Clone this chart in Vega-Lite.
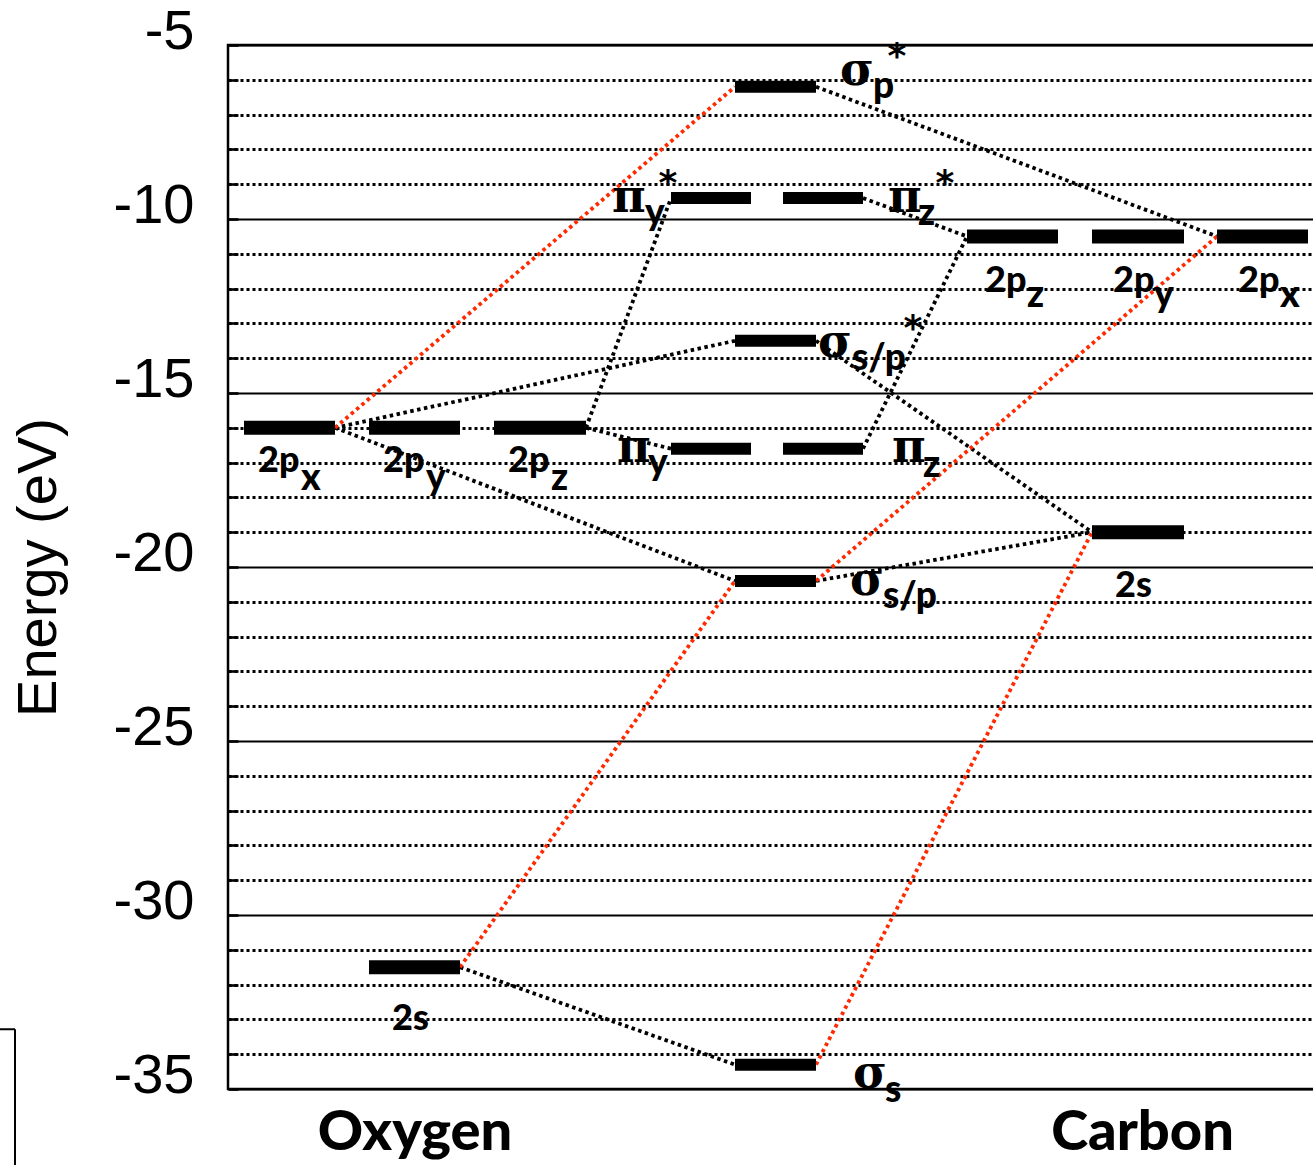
{
  "$schema": "https://vega.github.io/schema/vega-lite/v6.json",
  "width": 1100,
  "height": 1044,
  "autosize": {"type": "none"},
  "padding": {"left": 228, "top": 45, "right": 0, "bottom": 76},
  "background": "white",
  "config": {"view": {"stroke": "black", "strokeWidth": 2.5}},
  "datasets": {
    "levels": [
      {"id": "O 2s", "kind": "atomic", "x": 14.1, "x2": 23.2, "e": -31.5},
      {"id": "O 2px", "kind": "atomic", "x": 1.6, "x2": 10.7, "e": -16.0},
      {"id": "O 2py", "kind": "atomic", "x": 14.1, "x2": 23.2, "e": -16.0},
      {"id": "O 2pz", "kind": "atomic", "x": 26.6, "x2": 35.8, "e": -16.0},
      {"id": "C 2s", "kind": "atomic", "x": 86.4, "x2": 95.6, "e": -19.0},
      {"id": "C 2pz", "kind": "atomic", "x": 73.9, "x2": 83.0, "e": -10.5},
      {"id": "C 2py", "kind": "atomic", "x": 86.4, "x2": 95.6, "e": -10.5},
      {"id": "C 2px", "kind": "atomic", "x": 98.9, "x2": 108.0, "e": -10.5},
      {"id": "sigma s", "kind": "mo", "x": 50.7, "x2": 58.8, "e": -34.3},
      {"id": "sigma s/p", "kind": "mo", "x": 50.7, "x2": 58.8, "e": -20.4},
      {"id": "pi y", "kind": "mo", "x": 44.3, "x2": 52.3, "e": -16.6},
      {"id": "pi z", "kind": "mo", "x": 55.5, "x2": 63.5, "e": -16.6},
      {"id": "sigma s/p*", "kind": "mo", "x": 50.7, "x2": 58.8, "e": -13.5},
      {"id": "pi y*", "kind": "mo", "x": 44.3, "x2": 52.3, "e": -9.4},
      {"id": "pi z*", "kind": "mo", "x": 55.5, "x2": 63.5, "e": -9.4},
      {"id": "sigma p*", "kind": "mo", "x": 50.7, "x2": 58.8, "e": -6.2}
    ],
    "links": [
      {"c": "black", "x": 23.2, "e": -31.5, "x2": 50.7, "e2": -34.3},
      {"c": "black", "x": 10.7, "e": -16.0, "x2": 50.7, "e2": -13.5},
      {"c": "black", "x": 10.7, "e": -16.0, "x2": 50.7, "e2": -20.4},
      {"c": "black", "x": 58.8, "e": -20.4, "x2": 86.4, "e2": -19.0},
      {"c": "black", "x": 58.8, "e": -13.5, "x2": 86.4, "e2": -19.0},
      {"c": "black", "x": 35.8, "e": -16.0, "x2": 44.3, "e2": -9.4},
      {"c": "black", "x": 35.8, "e": -16.0, "x2": 44.3, "e2": -16.6},
      {"c": "black", "x": 63.5, "e": -16.6, "x2": 73.9, "e2": -10.5},
      {"c": "black", "x": 63.5, "e": -9.4, "x2": 73.9, "e2": -10.5},
      {"c": "black", "x": 58.8, "e": -6.2, "x2": 98.9, "e2": -10.5},
      {"c": "red", "x": 10.7, "e": -16.0, "x2": 50.7, "e2": -6.2},
      {"c": "red", "x": 23.2, "e": -31.5, "x2": 50.7, "e2": -20.4},
      {"c": "red", "x": 58.8, "e": -20.4, "x2": 98.9, "e2": -10.5},
      {"c": "red", "x": 58.8, "e": -34.3, "x2": 86.4, "e2": -19.0}
    ],
    "labels": [
      {"part": "main", "t": "2p", "x": 3.0, "e": -17.27},
      {"part": "main", "t": "2p", "x": 15.5, "e": -17.27},
      {"part": "main", "t": "2p", "x": 28.0, "e": -17.27},
      {"part": "main", "t": "2p", "x": 75.7, "e": -12.1},
      {"part": "main", "t": "2p", "x": 88.5, "e": -12.1},
      {"part": "main", "t": "2p", "x": 101.0, "e": -12.1},
      {"part": "main", "t": "2s", "x": 88.7, "e": -20.86},
      {"part": "main", "t": "2s", "x": 16.4, "e": -33.3},
      {"part": "sub", "t": "x", "x": 7.3, "e": -17.79},
      {"part": "sub", "t": "y", "x": 19.8, "e": -17.79},
      {"part": "sub", "t": "z", "x": 32.3, "e": -17.79},
      {"part": "sub", "t": "z", "x": 79.9, "e": -12.53},
      {"part": "sub", "t": "y", "x": 92.6, "e": -12.53},
      {"part": "sub", "t": "x", "x": 105.2, "e": -12.53},
      {"part": "greek", "t": "σ", "x": 61.2, "e": -6.15},
      {"part": "greek", "t": "π", "x": 38.4, "e": -9.8},
      {"part": "greek", "t": "π", "x": 66.0, "e": -9.8},
      {"part": "greek", "t": "σ", "x": 59.0, "e": -13.97},
      {"part": "greek", "t": "π", "x": 38.9, "e": -16.98},
      {"part": "greek", "t": "π", "x": 66.4, "e": -16.98},
      {"part": "greek", "t": "σ", "x": 62.2, "e": -20.8},
      {"part": "greek", "t": "σ", "x": 62.5, "e": -34.97},
      {"part": "sub", "t": "p", "x": 64.5, "e": -6.52},
      {"part": "sub", "t": "y", "x": 41.7, "e": -10.17},
      {"part": "sub", "t": "z", "x": 69.0, "e": -10.17},
      {"part": "sub", "t": "s/p", "x": 62.4, "e": -14.34},
      {"part": "sub", "t": "y", "x": 42.0, "e": -17.36},
      {"part": "sub", "t": "z", "x": 69.5, "e": -17.41},
      {"part": "sub", "t": "s/p", "x": 65.5, "e": -21.18},
      {"part": "sub", "t": "s", "x": 65.7, "e": -35.37},
      {"part": "star", "t": "*", "x": 66.9, "e": -5.66},
      {"part": "star", "t": "*", "x": 44.0, "e": -9.31},
      {"part": "star", "t": "*", "x": 71.7, "e": -9.31},
      {"part": "star", "t": "*", "x": 68.5, "e": -13.48}
    ],
    "box": [
      {"x": -21.3, "e": -33.28, "x2": -21.3, "e2": -40},
      {"x": -30, "e": -33.28, "x2": -21.3, "e2": -33.28}
    ]
  },
  "encoding": {
    "x": {
      "field": "x", "type": "quantitative",
      "scale": {"domain": [0, 110], "nice": false, "zero": false},
      "axis": {
        "values": [18.65, 91.4],
        "labelExpr": "datum.value < 50 ? 'Oxygen' : 'Carbon'",
        "title": null, "ticks": false, "domain": false, "grid": false,
        "labelFont": "Lato", "labelFontWeight": 900, "labelFontSize": 56, "labelLimit": 0,
        "labelColor": "black", "labelBaseline": "top", "labelPadding": 16
      }
    },
    "y": {
      "field": "e", "type": "quantitative",
      "scale": {"domain": [-35, -5], "nice": false, "zero": false},
      "axis": {
        "values": [-35,-34,-33,-32,-31,-30,-29,-28,-27,-26,-25,-24,-23,-22,-21,-20,-19,-18,-17,-16,-15,-14,-13,-12,-11,-10,-9,-8,-7,-6,-5],
        "labelExpr": "datum.value % 5 === 0 ? '' + datum.value : ''",
        "title": "Energy (eV)",
        "titleFont": "Liberation Sans", "titleFontWeight": "normal", "titleFontSize": 56,
        "titleColor": "black", "titlePadding": 46,
        "labelFont": "Liberation Sans", "labelFontSize": 56, "labelColor": "black",
        "labelOffset": -14, "labelPadding": 44,
        "ticks": true, "tickSize": -10, "tickWidth": 2.6, "tickColor": "black",
        "domain": false,
        "grid": true, "gridColor": "black", "gridOpacity": 1,
        "gridDash": {"condition": {"test": "datum.value % 5 === 0", "value": []}, "value": [3, 3]},
        "gridWidth": {"condition": {"test": "datum.value % 5 === 0", "value": 2.2}, "value": 3}
      }
    }
  },
  "layer": [
    {
      "data": {"name": "links"},
      "mark": {"type": "rule", "strokeWidth": 3.8, "strokeDash": [3.5, 3.5]},
      "encoding": {
        "x2": {"field": "x2"},
        "y2": {"field": "e2"},
        "color": {"field": "c", "type": "nominal", "scale": {"domain": ["black", "red"], "range": ["#000000", "#ff2a00"]}, "legend": null}
      }
    },
    {
      "data": {"name": "levels"},
      "transform": [{"filter": "datum.kind === 'atomic'"}],
      "mark": {"type": "rule", "strokeWidth": 14, "color": "black", "strokeCap": "butt"},
      "encoding": {
        "x2": {"field": "x2"}
      }
    },
    {
      "data": {"name": "levels"},
      "transform": [{"filter": "datum.kind === 'mo'"}],
      "mark": {"type": "rule", "strokeWidth": 12, "color": "black", "strokeCap": "butt"},
      "encoding": {
        "x2": {"field": "x2"}
      }
    },
    {
      "data": {"name": "labels"},
      "transform": [{"filter": "datum.part === 'main'"}],
      "mark": {"type": "text", "font": "Lato", "fontWeight": 900, "fontSize": 36, "align": "left", "baseline": "alphabetic", "color": "black"},
      "encoding": {
        "text": {"field": "t"}
      }
    },
    {
      "data": {"name": "labels"},
      "transform": [{"filter": "datum.part === 'sub'"}],
      "mark": {"type": "text", "font": "Lato", "fontWeight": 900, "fontSize": 37, "align": "left", "baseline": "alphabetic", "color": "black"},
      "encoding": {
        "text": {"field": "t"}
      }
    },
    {
      "data": {"name": "labels"},
      "transform": [{"filter": "datum.part === 'greek'"}],
      "mark": {"type": "text", "font": "DejaVu Serif", "fontWeight": "bold", "fontSize": 46, "align": "left", "baseline": "alphabetic", "color": "black"},
      "encoding": {
        "text": {"field": "t"}
      }
    },
    {
      "data": {"name": "labels"},
      "transform": [{"filter": "datum.part === 'star'"}],
      "mark": {"type": "text", "font": "DejaVu Sans", "fontWeight": "bold", "fontSize": 36, "align": "center", "baseline": "alphabetic", "color": "black"},
      "encoding": {
        "text": {"field": "t"}
      }
    },
    {
      "data": {"name": "box"},
      "mark": {"type": "rule", "strokeWidth": 2, "color": "black"},
      "encoding": {
        "x2": {"field": "x2"},
        "y2": {"field": "e2"}
      }
    }
  ]
}
